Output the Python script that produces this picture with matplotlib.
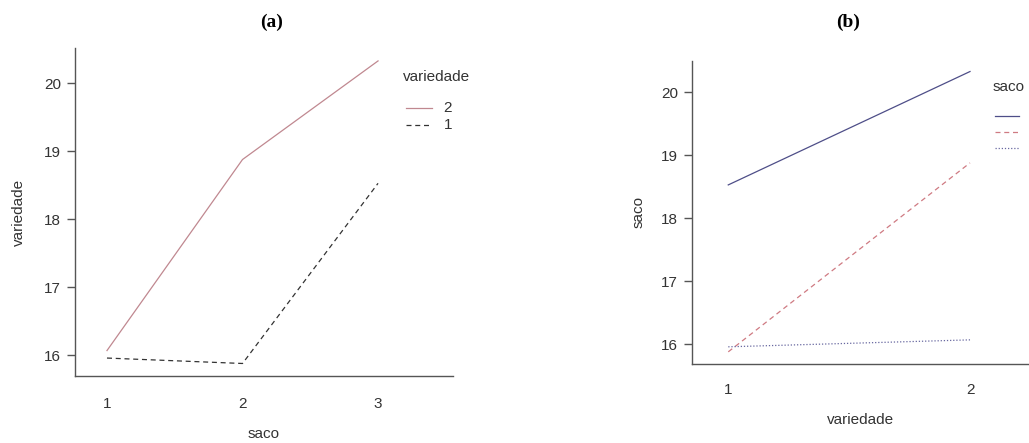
import numpy as np
import matplotlib
matplotlib.use("Agg")
import matplotlib.pyplot as plt
from matplotlib.lines import Line2D

# data
saco = [1, 2, 3]
var2_means = [16.07, 18.88, 20.33]   # variedade 2 over saco
var1_means = [15.96, 15.88, 18.53]   # variedade 1 over saco

variedade = [1, 2]
saco3_means = [18.53, 20.33]
saco2_means = [15.88, 18.88]
saco1_means = [15.96, 16.07]

yticks = [16, 17, 18, 19, 20]

plt.rcParams['font.family'] = ['Liberation Sans', 'DejaVu Sans']
axis_col = '#555555'
txt_col = '#333333'
W, H = 1029, 443

fig = plt.figure(figsize=(W/100, H/100), dpi=100)

def px(x, y):
    return x / W, 1 - y / H

def style(ax, xpad):
    for s in ['top', 'right']:
        ax.spines[s].set_visible(False)
    for s in ['left', 'bottom']:
        ax.spines[s].set_color(axis_col)
        ax.spines[s].set_linewidth(1.0)
    ax.set_yticks(yticks)
    ax.tick_params(axis='y', length=6, width=1, color=axis_col, labelsize=11,
                   labelcolor=txt_col, pad=4)
    ax.tick_params(axis='x', length=0, labelsize=11, labelcolor=txt_col, pad=xpad)

def legend_entry(x0, x1, y, color, ls, label=None):
    fig.add_artist(Line2D([x0/W, x1/W], [1-y/H, 1-y/H], color=color, lw=0.9,
                          ls=ls, transform=fig.transFigure))
    if label is not None:
        fig.text(*px(x1 + 16, y), label, ha='center', va='center',
                 fontsize=11, color=txt_col)

# (a)
ax1 = fig.add_axes([75/W, 1-376/H, 378/W, 328/H])
style(ax1, 15)
ax1.plot(saco, var2_means, color='#c08890', lw=0.9, ls='-')
ax1.plot(saco, var1_means, color='#333333', lw=0.9, ls=(0, (4, 3)))
ax1.set_xlim(0.764, 3.553)
ax1.set_ylim(15.696, 20.52)
ax1.set_xticks(saco)
ax1.set_xlabel('saco', fontsize=11, color=txt_col, labelpad=12)
ax1.set_ylabel('variedade', fontsize=11, color=txt_col, labelpad=13)
fig.text(*px(403, 77), 'variedade', ha='left', va='center', fontsize=11, color=txt_col)
legend_entry(406, 432, 108, '#c08890', '-', '2')
legend_entry(406, 432, 125, '#333333', (0, (4, 3)), '1')
fig.text(*px(272, 22), '(a)', ha='center', va='center',
         fontsize=14, fontweight='bold', family='Liberation Serif')

# (b)
ax2 = fig.add_axes([692/W, 1-364/H, 337/W, 303/H])
style(ax2, 14)
ax2.plot(variedade, saco3_means, color='#4e4e88', lw=0.9, ls='-')
ax2.plot(variedade, saco2_means, color='#cf7a82', lw=0.9, ls=(0, (4, 3)))
ax2.plot(variedade, saco1_means, color='#6868a0', lw=0.9, ls=(0, (1, 1.5)))
ax2.set_xlim(0.85, 2.244)
ax2.set_ylim(15.687, 20.497)
ax2.set_xticks(variedade)
ax2.set_xlabel('variedade', fontsize=11, color=txt_col, labelpad=11)
ax2.set_ylabel('saco', fontsize=11, color=txt_col, labelpad=11)
fig.text(*px(993, 87), 'saco', ha='left', va='center', fontsize=11, color=txt_col)
legend_entry(995, 1019, 116, '#4e4e88', '-')
legend_entry(995, 1019, 132, '#cf7a82', (0, (4, 3)))
legend_entry(995, 1019, 148, '#6868a0', (0, (1, 1.5)))
fig.text(*px(848, 22), '(b)', ha='center', va='center',
         fontsize=14, fontweight='bold', family='Liberation Serif')

fig.savefig('out.png', dpi=100, facecolor='white')
